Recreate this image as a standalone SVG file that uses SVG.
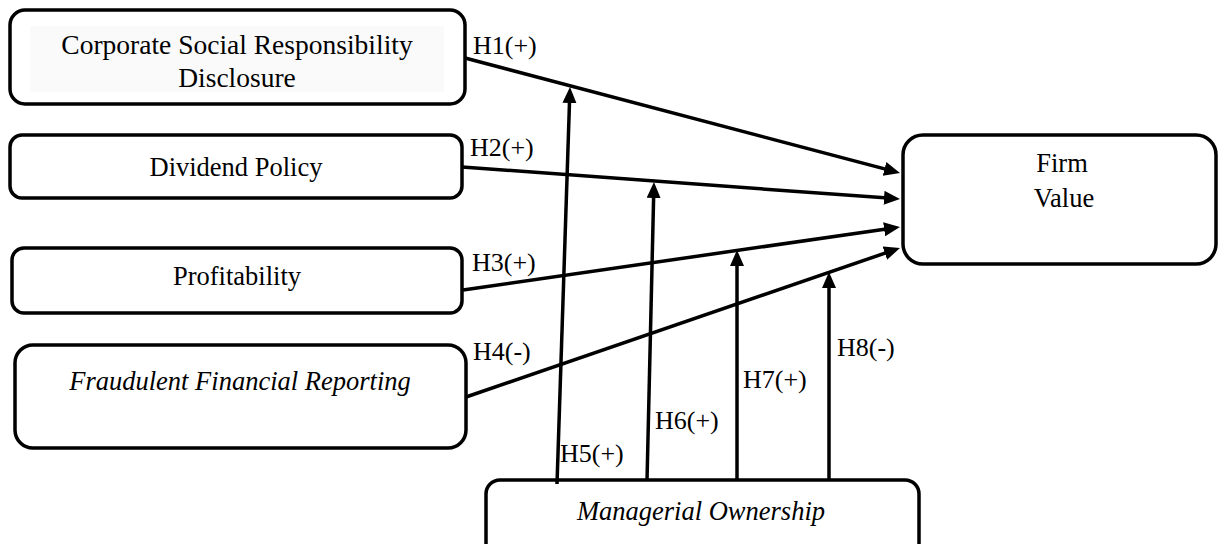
<svg xmlns="http://www.w3.org/2000/svg" width="1218" height="544" viewBox="0 0 1218 544">
<style>
.box{fill:#fff;stroke:#000;stroke-width:3.5}
.t{font-family:"Liberation Serif","Times New Roman",serif;font-size:26.5px;fill:#000;text-anchor:middle}
.i{font-style:italic}
.lbl{font-family:"Liberation Serif","Times New Roman",serif;font-size:26px;fill:#000}
.c{stroke:#000;stroke-width:3.5;fill:none;marker-end:url(#ah)}
</style>
<defs>
<marker id="ah" markerUnits="userSpaceOnUse" markerWidth="18" markerHeight="16" refX="4" refY="7" orient="auto">
<path d="M0,0 L16,7 L0,14 z" fill="#000"/>
</marker>
</defs>
<rect width="1218" height="544" fill="#fff"/>
<g id="csr">
<rect class="box" x="10" y="10" width="455" height="94" rx="15"/>
<rect x="30" y="26" width="414" height="66" fill="#fafafa"/>
<text class="t" x="237" y="54" style="font-size:27.5px">Corporate Social Responsibility</text>
<text class="t" x="237" y="87" style="font-size:27.5px">Disclosure</text>
</g>
<g id="dividend">
<rect class="box" x="10" y="135" width="452" height="63" rx="12"/>
<text class="t" x="236" y="176">Dividend Policy</text>
</g>
<g id="profitability">
<rect class="box" x="12" y="248" width="450" height="65" rx="12"/>
<text class="t" x="237" y="285">Profitability</text>
</g>
<g id="fraud">
<rect class="box" x="15" y="345" width="451" height="103" rx="18"/>
<text class="t i" x="240" y="390">Fraudulent Financial Reporting</text>
</g>
<g id="firm">
<rect class="box" x="903" y="135" width="313" height="129" rx="20"/>
<text class="t" x="1062" y="172">Firm</text>
<text class="t" x="1064" y="207">Value</text>
</g>
<g id="managerial">
<rect class="box" x="486" y="480" width="433" height="80" rx="14"/>
<text class="t i" x="701" y="520">Managerial Ownership</text>
</g>
<g id="connectors">
<line class="c" x1="465" y1="58" x2="888.4" y2="169.9"/>
<line class="c" x1="462" y1="167" x2="888" y2="198.1"/>
<line class="c" x1="463" y1="290" x2="888.1" y2="228.7"/>
<line class="c" x1="466" y1="397" x2="888.6" y2="251.9"/>
<line class="c" x1="557" y1="484" x2="569.6" y2="99"/>
<line class="c" x1="647" y1="481" x2="653.7" y2="194"/>
<line class="c" x1="737" y1="481" x2="737" y2="262"/>
<line class="c" x1="829" y1="481" x2="829" y2="284"/>
</g>
<g id="labels">
<text class="lbl" x="473" y="54">H1(+)</text>
<text class="lbl" x="470" y="156">H2(+)</text>
<text class="lbl" x="472" y="271">H3(+)</text>
<text class="lbl" x="473" y="360">H4(-)</text>
<text class="lbl" x="560" y="462">H5(+)</text>
<text class="lbl" x="655" y="429">H6(+)</text>
<text class="lbl" x="743" y="388">H7(+)</text>
<text class="lbl" x="837" y="356">H8(-)</text>
</g>
</svg>
